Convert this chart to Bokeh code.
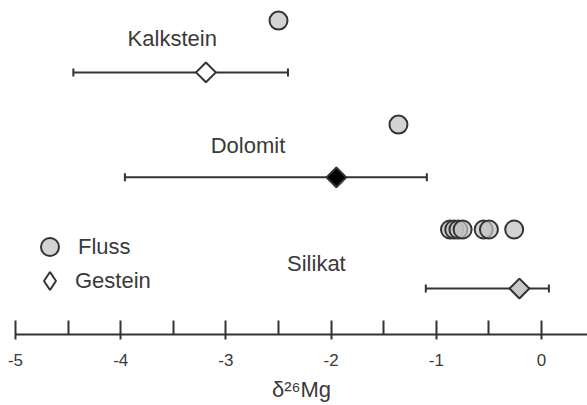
import numpy as np
from bokeh.plotting import figure
from bokeh.models import (ColumnDataSource, Range1d, FixedTicker, Whisker, TeeHead,
                          Label, Legend, LegendItem)
from bokeh.embed import file_html
from bokeh.resources import INLINE

# ---- data (δ26Mg values) ----
groups = ["Kalkstein", "Dolomit", "Silikat"]
fluss_kalkstein = [-2.50]
fluss_dolomit = [-1.36]
fluss_silikat = [-0.87, -0.83, -0.79, -0.75, -0.55, -0.50, -0.26]
gestein_mean = [-3.19, -1.95, -0.21]
gestein_low = [-4.45, -3.96, -1.10]
gestein_high = [-2.41, -1.09, 0.07]
gestein_fill = ["#ffffff", "#000000", "#c8c8c8"]
tick_values = [-5, -4, -3, -2, -1, 0]
tick_labels = ["-5", "-4", "-3", "-2", "-1", "0"]
minor_tick_values = [-4.5, -3.5, -2.5, -1.5, -0.5]

# ---- layout (vertical rows, label positions) ----
row_circle_y = [9.63, 6.44, 3.22]
row_diamond_y = [8.04, 4.82, 1.41]
row_label_y = [9.08, 5.80, 2.18]
row_label_x = [-3.51, -2.79, -2.14]

INK = "#333333"
TXT = "#3a3a3a"
FONT = "Liberation Sans"

p = figure(width=587, height=405, output_backend="svg", toolbar_location=None,
           x_range=Range1d(-5, 0.437), y_range=Range1d(0, 10),
           y_axis_location=None, min_border_left=15, min_border_right=0,
           min_border_top=8, min_border_bottom=71)
p.grid.visible = False
p.outline_line_color = None
p.background_fill_color = "white"

# whiskers
wsrc = ColumnDataSource(dict(base=row_diamond_y, lower=gestein_low, upper=gestein_high))
w = Whisker(source=wsrc, base="base", lower="lower", upper="upper", dimension="width",
            line_color=INK, line_width=2,
            lower_head=TeeHead(size=8, line_color=INK, line_width=2),
            upper_head=TeeHead(size=8, line_color=INK, line_width=2))
p.add_layout(w)

fluss_lists = [fluss_kalkstein, fluss_dolomit, fluss_silikat]
circle_renderers = []
for i, g in enumerate(groups):
    vals = fluss_lists[i]
    cs = ColumnDataSource(dict(x=vals, y=[row_circle_y[i]] * len(vals)))
    cr = p.scatter("x", "y", source=cs, marker="circle", size=18,
                   fill_color="#c2c2c2", fill_alpha=0.72,
                   line_color=INK, line_width=2)
    circle_renderers.append(cr)
    ds = ColumnDataSource(dict(x=[gestein_mean[i]], y=[row_diamond_y[i]]))
    p.scatter("x", "y", source=ds, marker="square", angle=np.pi / 4, size=14,
              fill_color=gestein_fill[i], line_color=INK, line_width=2)
    p.add_layout(Label(x=row_label_x[i], y=row_label_y[i], text=g,
                       text_align="center", text_baseline="middle",
                       text_font=FONT, text_font_size="22px", text_color=TXT))

# legend-only key for the rock (diamond) symbol (not drawn in the plot area)
key_src = ColumnDataSource(dict(x=[np.nan], y=[np.nan]))
key_diamond = p.scatter("x", "y", source=key_src, marker="diamond", size=18,
                        fill_color="#ffffff", line_color=INK, line_width=2)

leg_kw = dict(padding=0, margin=0, label_text_font=FONT, label_text_font_size="22px",
              label_text_color=TXT, border_line_color=None, background_fill_alpha=0)
leg1 = Legend(items=[LegendItem(label="Fluss", renderers=[circle_renderers[0]])],
              location=(12, 65), glyph_width=45, glyph_height=45, label_standoff=6,
              **leg_kw)
leg2 = Legend(items=[LegendItem(label="Gestein", renderers=[key_diamond])],
              location=(12, 31), glyph_width=45, glyph_height=45, label_standoff=3,
              **leg_kw)
p.add_layout(leg1)
p.add_layout(leg2)

ax = p.xaxis[0]
ax.ticker = FixedTicker(ticks=tick_values, minor_ticks=minor_tick_values)
ax.major_label_overrides = {v: l for v, l in zip(tick_values, tick_labels)}
ax.axis_line_color = INK
ax.axis_line_width = 2
ax.major_tick_line_color = INK
ax.major_tick_line_width = 2
ax.minor_tick_line_color = INK
ax.minor_tick_line_width = 2
ax.major_tick_in = 14
ax.major_tick_out = 5
ax.minor_tick_in = 14
ax.minor_tick_out = 0
ax.major_label_text_font = FONT
ax.major_label_text_font_size = "17px"
ax.major_label_text_color = TXT
ax.major_label_standoff = 14
ax.axis_label = "δ²⁶Mg"
ax.axis_label_text_font = FONT
ax.axis_label_text_font_size = "22px"
ax.axis_label_text_font_style = "normal"
ax.axis_label_text_color = TXT
ax.axis_label_standoff = 8

open("out.html", "w").write(file_html(p, INLINE))
